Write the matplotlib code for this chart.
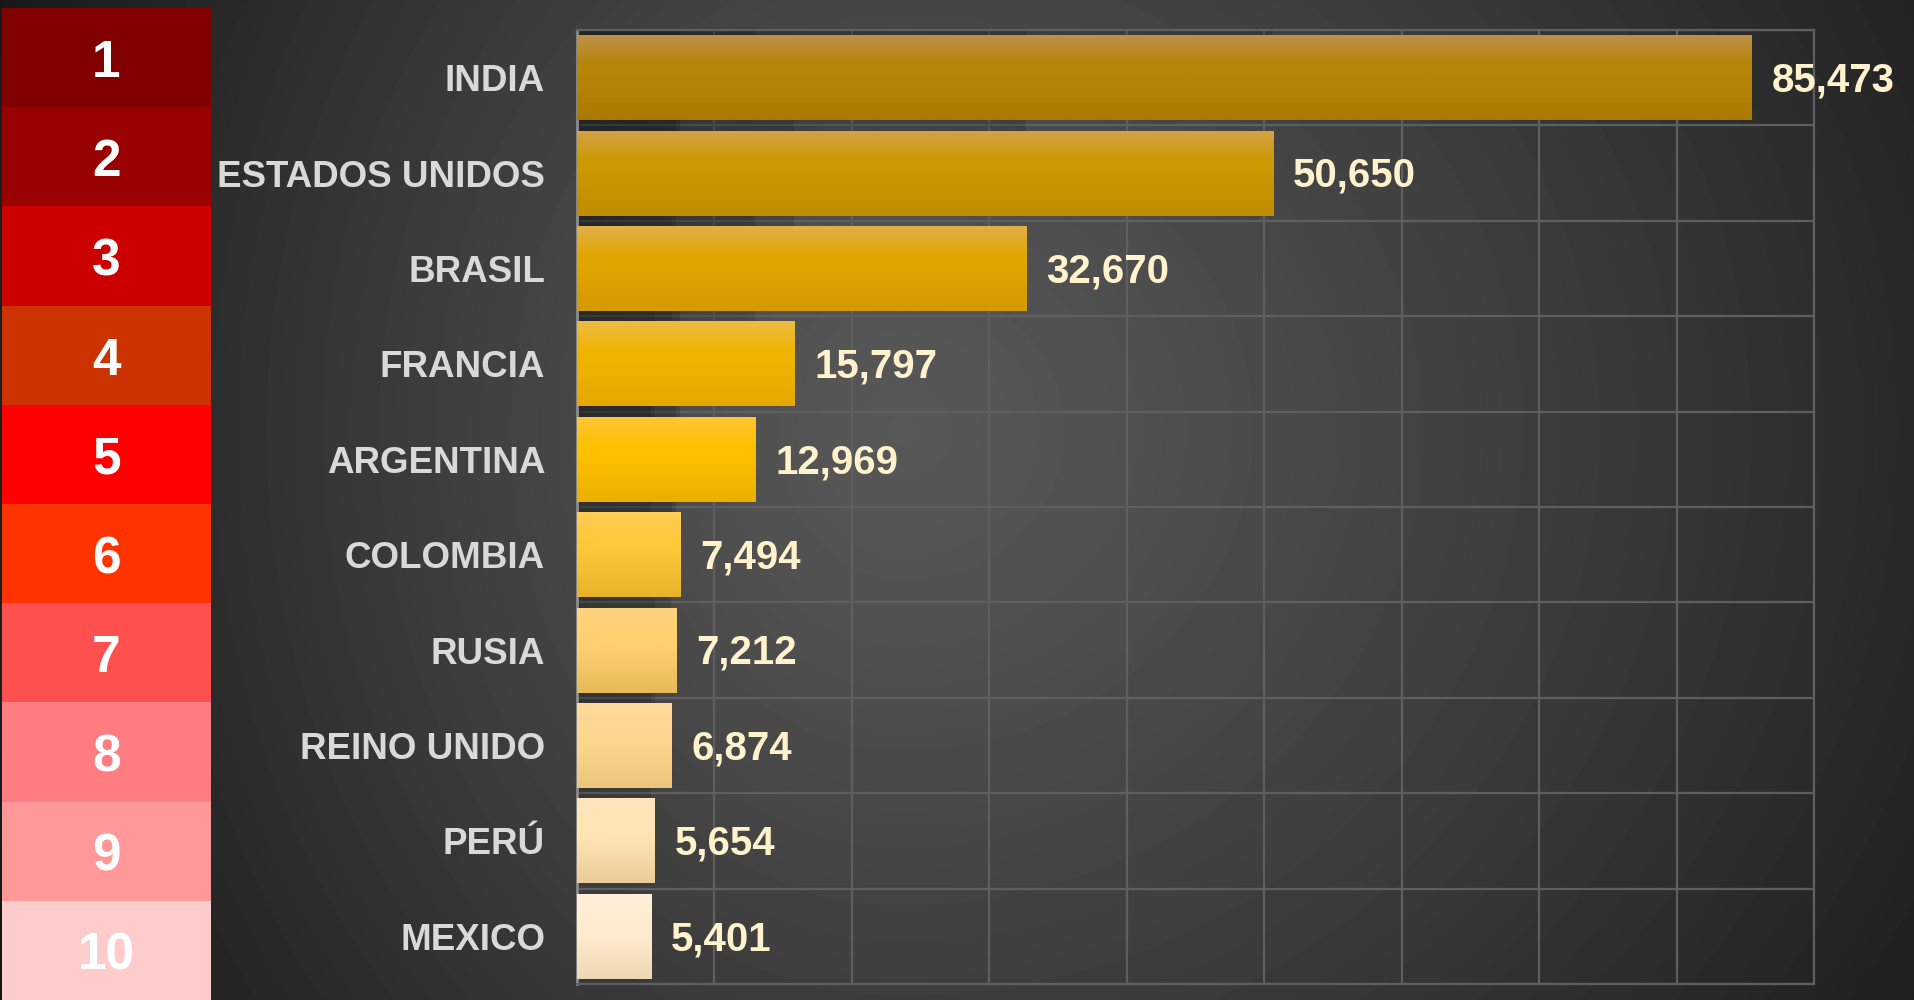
import numpy as np
import matplotlib
matplotlib.use("Agg")
import matplotlib.pyplot as plt
from matplotlib.colors import to_rgb
from matplotlib.patches import Shadow

plt.rcParams["font.family"] = ["Liberation Sans", "DejaVu Sans"]

# datos (orden del ranking)
countries = ["INDIA", "ESTADOS UNIDOS", "BRASIL", "FRANCIA", "ARGENTINA",
             "COLOMBIA", "RUSIA", "REINO UNIDO", "PERÚ", "MEXICO"]
values = [85473, 50650, 32670, 15797, 12969, 7494, 7212, 6874, 5654, 5401]
ranks = list(range(1, 11))

# estilos
RANK_COLORS = ["#800000", "#990000", "#cc0000", "#cc3300", "#ff0000",
               "#ff3300", "#ff5050", "#ff7c80", "#ff9999", "#ffcccc"]
BAR_TOP = ["#bc9048", "#d2a244", "#e2ae48", "#ecbb45", "#ffc535",
           "#ffcc55", "#ffd47e", "#ffda9a", "#ffe6bc", "#fff0da"]
BAR_MID = ["#b68508", "#cc9900", "#e0a600", "#f0b400", "#ffc000",
           "#ffc83a", "#ffd070", "#ffd690", "#ffe4b5", "#ffecd0"]
BAR_BOT = ["#ab7a00", "#c08c00", "#d49a00", "#e6a800", "#ebb000",
           "#e8b22a", "#e8bb58", "#ecc67a", "#ebcd9a", "#eed8b4"]
LABEL_COLOR = "#d9d9d9"
VALUE_COLOR = "#fff2cc"
GRID_COLOR = "#5f5f5f"

W, H = 1915, 1000
fig = plt.figure(figsize=(W / 100, H / 100), dpi=100)
fig.patch.set_facecolor("#333333")

# fondo con degradado radial
bg = fig.add_axes([0, 0, 1, 1], zorder=-10)
yy, xx = np.mgrid[0:H, 0:W]
dx = (xx - 900) / np.where(xx < 900, 820, 1100)
dy = (yy - 430) / 1000
r = np.sqrt(dx ** 2 + dy ** 2)
v = 88 - 52 * np.clip(r, 0, 1.3) ** 1.2
bg.imshow(v, cmap="gray", vmin=0, vmax=255, aspect="auto", interpolation="bilinear")
bg.axis("off")

# columna de ranking
rk = fig.add_axes([2 / W, 0, 209 / W, 992 / H])
rk.barh(np.arange(10), [1] * 10, height=1.0, color=RANK_COLORS, edgecolor="none")
for i, n in enumerate(ranks):
    rk.text(0.5, i + 0.06, str(n), ha="center", va="center", color="white",
            fontsize=37, fontweight="bold")
rk.set_xlim(0, 1)
rk.set_ylim(9.5, -0.5)
rk.axis("off")

# grafico de barras
ax = fig.add_axes([577 / W, 16 / H, 1237 / W, 954 / H])
ax.set_facecolor("none")
ypos = np.arange(len(countries))
bh = 0.89
bars = ax.barh(ypos, values, height=bh, color=BAR_MID, edgecolor="none", zorder=3)
for i, bar in enumerate(bars):
    for d in (1.0, 2.0, 3.0, 4.0):
        sh = Shadow(bar, d * 0.8, -d * 1.0, facecolor="black", edgecolor="none",
                    alpha=0.12, zorder=2)
        ax.add_patch(sh)
    grad = np.array([to_rgb(BAR_TOP[i]), to_rgb(BAR_MID[i]), to_rgb(BAR_MID[i]),
                     to_rgb(BAR_BOT[i])])
    pos = np.array([0.0, 0.35, 0.45, 1.0])
    t = np.linspace(0, 1, 64)
    img = np.stack([np.interp(t, pos, grad[:, c]) for c in range(3)], axis=1)[:, None, :]
    y0 = bar.get_y()
    im = ax.imshow(img, extent=(0, bar.get_width(), y0 + bh, y0), aspect="auto",
                   interpolation="bilinear", zorder=3)
    im.set_clip_path(bar)
    ax.text(values[i] + 1450, ypos[i] + 0.03, f"{values[i]:,}", ha="left", va="center",
            color=VALUE_COLOR, fontsize=29, fontweight="bold", zorder=5)

ax.set_xlim(0, 90000)
ax.set_ylim(9.5, -0.5)
ax.set_xticks(np.arange(0, 90001, 10000))
ax.set_xticklabels([])
ax.set_yticks(ypos)
ax.set_yticklabels(countries, color=LABEL_COLOR, fontsize=26.5, fontweight="bold")
ax.set_yticks(np.arange(-0.5, 10, 1), minor=True)
ax.tick_params(axis="both", which="both", length=0)
ax.tick_params(axis="y", pad=23)
ax.grid(True, axis="x", which="major", color=GRID_COLOR, lw=1.6, zorder=0)
ax.grid(True, axis="y", which="minor", color=GRID_COLOR, lw=1.6, zorder=0)
ax.set_axisbelow(True)
for s in ("top", "right", "bottom"):
    ax.spines[s].set_color(GRID_COLOR)
    ax.spines[s].set_linewidth(1.6)
ax.spines["left"].set_color("#8c8c8c")
ax.spines["left"].set_linewidth(2)

fig.savefig("out.png", dpi=100, facecolor=fig.get_facecolor())
